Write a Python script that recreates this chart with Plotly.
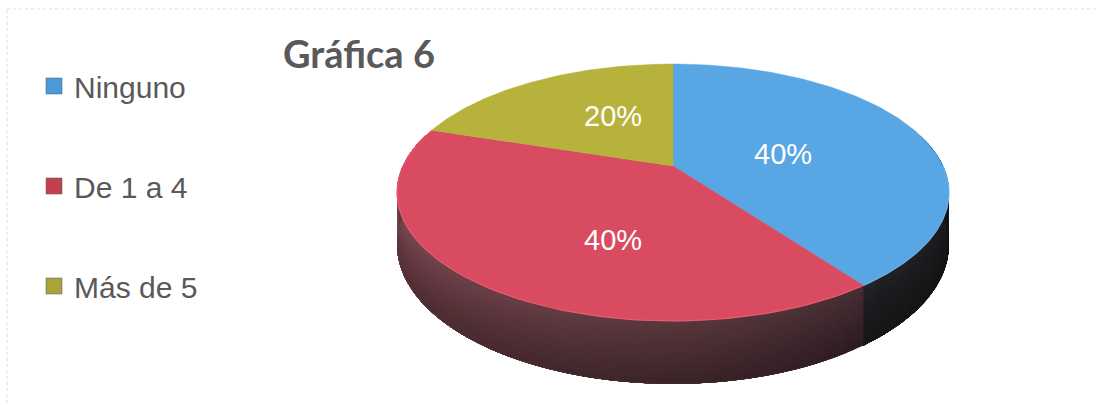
import numpy as np
import plotly.graph_objects as go

# Chart data
categories = ["Ninguno", "De 1 a 4", "Más de 5"]
values = [40, 40, 20]
title_text = "Gráfica 6"

# Styling
top_colors = ["#58a6e4", "#d84b61", "#b7b23b"]
rim_colors = ["#6ab3ec", "#ea5a70", "#c4bf48"]
side_light = [(62, 64, 72), (140, 80, 90), (150, 146, 60)]
side_dark = [(20, 20, 22), (34, 28, 30), (60, 58, 24)]
legend_colors = ["#4b9ad9", "#c2404f", "#a9a33c"]
label_color = "white"
text_grey = "#595959"

W, H = 1097, 405
# Pie projection (pixel space): centre, semi-axes, perspective, thickness
CX, CY = 673.0, 166.0
A, B = 270.0, 123.0
P = 0.206
DEPTH = 50.0
SIDE_MIN, SIDE_MAX = 75.0, 285.0
# Value-label placement around the pie centre
LBL_RX, LBL_RY, LBL_DX, LBL_DY = 110.5, 77.0, 5.0, 12.0


def project(theta_deg, r=1.0, h=0.0):
    t = np.radians(theta_deg)
    X = r * np.sin(t)
    Z = r * np.cos(t)
    w = 1.0 + P * Z
    return CX + A * X / w, CY - B * Z / w + h * DEPTH / w


def wall(t0, t1, h0, h1, n=60):
    """Outline of the outer wall between angles t0..t1 and heights h0..h1."""
    ths = np.linspace(t0, t1, n)
    up = [project(t, 1.0, h0) for t in ths]
    dn = [project(t, 1.0, h1) for t in ths[::-1]]
    pts = up + dn + [up[0]]
    return [p[0] for p in pts], [p[1] for p in pts]


def mix(c0, c1, t):
    return tuple(int(round(a + (b - a) * t)) for a, b in zip(c0, c1))


def rgb(c):
    return "rgb(%d,%d,%d)" % c


total = float(sum(values))
bounds = np.concatenate([[0.0], np.cumsum(values) / total * 360.0])

fig = go.Figure()

# Outer walls (front half only): nested polygons painted in order give a
# smooth left-to-right shading without seams between strips
for i, cat in enumerate(categories):
    a0, a1 = max(bounds[i], SIDE_MIN), min(bounds[i + 1], SIDE_MAX)
    if a1 <= a0:
        continue
    n = max(2, int(np.ceil((a1 - a0) / 2.0)))
    ths = np.linspace(a0, a1, n + 1)
    for k in range(n):
        tm = (ths[k] + ths[k + 1]) / 2
        g = (tm - SIDE_MIN) / (SIDE_MAX - SIDE_MIN)
        col = mix(side_dark[i], side_light[i], g)
        xs, ys = wall(ths[k], a1, 0.0, 1.0)
        fig.add_trace(go.Scatter(
            x=xs, y=ys, fill="toself", mode="lines",
            fillcolor=rgb(col), line=dict(width=0),
            hoverinfo="skip", showlegend=False))

# Darker towards the bottom edge of the wall
for hb in np.linspace(0.1, 0.9, 9):
    xs, ys = wall(SIDE_MIN, SIDE_MAX, hb, 1.0, 150)
    fig.add_trace(go.Scatter(
        x=xs, y=ys, fill="toself", mode="lines",
        fillcolor="rgba(0,0,0,0.035)", line=dict(width=0),
        hoverinfo="skip", showlegend=False))

# Top faces of the slices
for i, cat in enumerate(categories):
    ths = np.linspace(bounds[i], bounds[i + 1], 120)
    xs, ys = [CX], [CY]
    for th in ths:
        x, y = project(th)
        xs.append(x)
        ys.append(y)
    xs.append(CX)
    ys.append(CY)
    fig.add_trace(go.Scatter(
        x=xs, y=ys, fill="toself", mode="lines",
        fillcolor=top_colors[i], line=dict(color=top_colors[i], width=0.5),
        hoverinfo="skip", showlegend=False))
    # light edge along the front rim
    a0, a1 = max(bounds[i], SIDE_MIN + 15), min(bounds[i + 1], SIDE_MAX)
    if a1 > a0:
        rim = [project(t) for t in np.linspace(a0, a1, 80)]
        fig.add_trace(go.Scatter(
            x=[p[0] for p in rim], y=[p[1] for p in rim], mode="lines",
            line=dict(color=rim_colors[i], width=1.2),
            hoverinfo="skip", showlegend=False))

# Value labels on each slice
for i, v in enumerate(values):
    mid = np.radians((bounds[i] + bounds[i + 1]) / 2)
    lx = CX + LBL_DX + LBL_RX * np.sin(mid)
    ly = CY + LBL_DY - LBL_RY * np.cos(mid)
    fig.add_annotation(x=lx, y=ly, text="%d%%" % round(v / total * 100),
                       showarrow=False,
                       font=dict(family="Liberation Sans", size=29, color=label_color))

# Legend entries
for i, cat in enumerate(categories):
    fig.add_trace(go.Scatter(
        x=[None], y=[None], mode="markers", name=cat, legendgroup=cat,
        marker=dict(symbol="square", size=18, color=legend_colors[i],
                    line=dict(color="rgba(90,90,90,0.5)", width=1))))

fig.add_shape(type="rect", x0=7, y0=9, x1=W + 20, y1=H + 20,
              line=dict(color="#dcdcdc", width=1, dash="dot"))

fig.update_layout(
    width=W, height=H,
    margin=dict(l=0, r=0, t=0, b=0),
    paper_bgcolor="white", plot_bgcolor="white",
    xaxis=dict(range=[0, W], visible=False, fixedrange=True),
    yaxis=dict(range=[H, 0], visible=False, fixedrange=True),
    title=dict(text="<b>%s</b>" % title_text, x=359 / W, xanchor="center",
               y=1 - 55 / H, yanchor="middle", yref="container",
               font=dict(family="Lato", size=38, color=text_grey)),
    legend=dict(x=34 / W, xanchor="left", y=1 - 60 / H, yanchor="top",
                font=dict(family="Liberation Sans", size=30, color=text_grey),
                tracegroupgap=58, bgcolor="rgba(0,0,0,0)",
                itemclick=False, itemdoubleclick=False),
    showlegend=True,
)

fig.write_html("out.html")
